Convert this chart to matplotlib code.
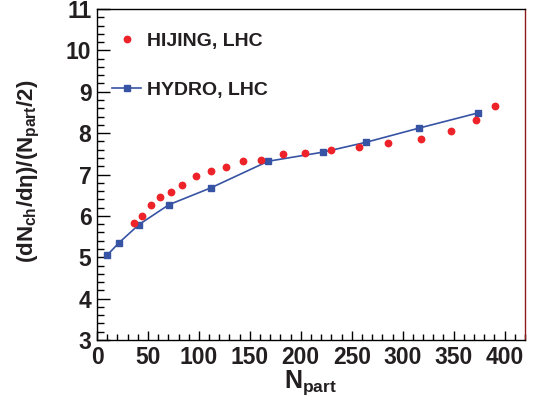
import matplotlib
matplotlib.use("Agg")
import matplotlib.pyplot as plt
from matplotlib.ticker import MultipleLocator
from matplotlib.lines import Line2D

plt.rcParams["font.family"] = ["Liberation Sans", "DejaVu Sans"]
plt.rcParams["font.weight"] = "bold"
plt.rcParams["mathtext.fontset"] = "custom"
plt.rcParams["mathtext.rm"] = "Liberation Sans:bold"
plt.rcParams["mathtext.bf"] = "Liberation Sans:bold"
plt.rcParams["mathtext.it"] = "Liberation Sans:bold"
plt.rcParams["mathtext.sf"] = "Liberation Sans:bold"
plt.rcParams["mathtext.default"] = "bf"

# HIJING, LHC (red dots)
hijing_npart = [35.9, 44.2, 53.0, 62.1, 72.2, 83.9, 97.4, 111.4, 126.4, 143.4,
                161.3, 182.9, 204.4, 229.6, 256.7, 285.1, 318.4, 347.1, 371.6, 390.2]
hijing_val = [5.83, 6.00, 6.26, 6.46, 6.58, 6.75, 6.96, 7.08, 7.19, 7.32,
              7.36, 7.49, 7.51, 7.59, 7.66, 7.75, 7.87, 8.06, 8.32, 8.66]

# HYDRO, LHC (blue squares + line)
hydro_npart = [9.9, 21.6, 41.2, 70.6, 112.0, 167.9, 221.7, 264.2, 315.8, 374.2]
hydro_val = [5.05, 5.35, 5.79, 6.27, 6.68, 7.32, 7.54, 7.78, 8.12, 8.49]

red = "#ee2229"
blue = "#3753a4"
ink = "#231f20"

fig = plt.figure(figsize=(5.4, 4.0), dpi=100)
ax = fig.add_axes([97 / 540, 60 / 400, 428 / 540, 331 / 400])

ax.plot(hydro_npart, hydro_val, color=blue, lw=1.2, marker="s", ms=4.5,
        mec=blue, mfc=blue)
ax.plot(hijing_npart, hijing_val, ls="none", marker="o", ms=4.6,
        color=red, mec=red)

ax.set_xlim(0, 420)
ax.set_ylim(3, 11)
ax.xaxis.set_major_locator(MultipleLocator(50))
ax.xaxis.set_minor_locator(MultipleLocator(10))
ax.yaxis.set_major_locator(MultipleLocator(1))
ax.yaxis.set_minor_locator(MultipleLocator(0.2))

ax.tick_params(axis="both", which="both", direction="in", top=False, right=False,
               width=1.0, labelsize=16.5, labelcolor=ink)
ax.tick_params(axis="y", which="major", length=9, pad=4)
ax.tick_params(axis="y", which="minor", length=5)
ax.tick_params(axis="x", which="major", length=6.5, pad=4)
ax.tick_params(axis="x", which="minor", length=4.5)
for lab in ax.get_xticklabels() + ax.get_yticklabels():
    lab.set_fontweight("bold")

for side in ["left", "bottom", "top"]:
    ax.spines[side].set_color("black")
    ax.spines[side].set_linewidth(1.0)
ax.spines["right"].set_color("#8b1a1a")
ax.spines["right"].set_linewidth(1.0)

ax.set_xlabel(r"$\mathbf{N_{part}}$", fontsize=18, labelpad=0, color=ink)
ax.set_ylabel(r"$\mathbf{(dN_{ch}/d}\eta\mathbf{)/(N_{part}/2)}$", fontsize=16,
              color=ink)
ax.yaxis.set_label_coords(-0.128, 0.51)

handles = [
    Line2D([], [], ls="none", marker="o", ms=4.6, color=red),
    Line2D([], [], color=blue, lw=1.2, marker="s", ms=4.5),
]
leg = ax.legend(handles, ["HIJING, LHC", "HYDRO, LHC"], loc="upper left",
                bbox_to_anchor=(0.035, 0.929), frameon=False, fontsize=14,
                handlelength=1.5, handletextpad=0.3, labelspacing=1.6,
                borderpad=0, borderaxespad=0)
for t in leg.get_texts():
    t.set_fontweight("bold")
    t.set_color(ink)

fig.savefig("out.png", dpi=100)
